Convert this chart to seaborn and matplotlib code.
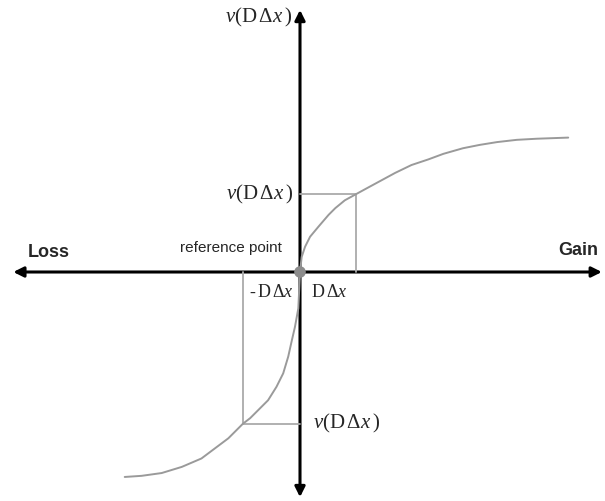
import pandas as pd
import seaborn as sns
import matplotlib.pyplot as plt
from matplotlib.patches import FancyArrowPatch

# value function v(x), x measured in units of the reference step D dx
gain_x = [0.0, 0.03, 0.09, 0.18, 0.33, 0.51, 0.63, 0.80, 1.00, 1.22, 1.46, 1.70,
          1.99, 2.29, 2.56, 2.91, 3.21, 3.52, 3.87, 4.23, 4.79]
gain_v = [0.0, 0.27, 0.45, 0.63, 0.81, 1.02, 1.14, 1.28, 1.39, 1.51, 1.64, 1.77,
          1.91, 2.01, 2.11, 2.21, 2.27, 2.32, 2.36, 2.38, 2.40]
loss_x = [0.0, -0.03, -0.09, -0.15, -0.21, -0.30, -0.42, -0.57, -0.74, -0.89, -1.02,
          -1.28, -1.52, -1.76, -2.11, -2.47, -2.83, -3.13]
loss_v = [0.0, -0.65, -0.98, -1.24, -1.51, -1.81, -2.05, -2.29, -2.46, -2.61, -2.71,
          -2.97, -3.15, -3.33, -3.48, -3.59, -3.64, -3.66]

# the marked step on each side
dx_gain, v_gain = 1.0, 1.39
dx_loss, v_loss = -1.02, -2.71

axis_x = (-5.12, 5.39)
axis_y = (-4.02, 4.68)

val_label = r"$\mathit{v}(\mathrm{D}\,\Delta \mathit{x}\,)$"

sns.set_style('white')
plt.rcParams['font.family'] = ['Liberation Sans', 'DejaVu Sans']
plt.rcParams['mathtext.fontset'] = 'custom'
plt.rcParams['mathtext.rm'] = 'Liberation Serif'
plt.rcParams['mathtext.it'] = 'Liberation Serif:italic'

fig = plt.figure(figsize=(6.05, 5.01), dpi=100)
ax = fig.add_axes([0, 0, 1, 1])

curve = pd.DataFrame({'x': loss_x[::-1] + gain_x, 'v': loss_v[::-1] + gain_v})

# guide lines for the marked steps
ax.plot([dx_gain, dx_gain], [0, v_gain], color='#aaaaaa', lw=1.3)
ax.plot([0, dx_gain], [v_gain, v_gain], color='#aaaaaa', lw=1.3)
ax.plot([dx_loss, dx_loss], [0, v_loss], color='#aaaaaa', lw=1.3)
ax.plot([dx_loss, 0], [v_loss, v_loss], color='#aaaaaa', lw=1.3)

sns.lineplot(data=curve, x='x', y='v', sort=False, estimator=None,
             color='#9a9a9a', lw=1.4, ax=ax)

# axes with arrows
for start, end in [((axis_x[0], 0), (axis_x[1], 0)), ((0, axis_y[0]), (0, axis_y[1]))]:
    ax.add_patch(FancyArrowPatch(start, end, arrowstyle='<|-|>,head_length=0.6,head_width=0.3',
                                 mutation_scale=10, color='black', lw=2.2, shrinkA=0, shrinkB=0))

sns.scatterplot(x=[0], y=[0], color='#8c8c8c', s=70, edgecolor='none', ax=ax, zorder=5)

ax.text(-0.14, 4.54, val_label, fontsize=15, ha='right', va='center')
ax.text(-0.12, v_gain, val_label, fontsize=15, ha='right', va='center')
ax.text(0.23, v_loss, val_label, fontsize=15, ha='left', va='center')
ax.text(-0.12, -0.37, r"$\text{-}\,\mathrm{D}\,\Delta \mathit{x}$", fontsize=13, ha='right', va='center')
ax.text(0.2, -0.37, r"$\mathrm{D}\,\Delta \mathit{x}$", fontsize=13, ha='left', va='center')
ax.text(-0.32, 0.43, 'reference point', fontsize=11, ha='right', va='center')
ax.text(-4.86, 0.34, 'Loss', fontsize=13, fontweight='bold', ha='left', va='center')
ax.text(5.32, 0.38, 'Gain', fontsize=13, fontweight='bold', ha='right', va='center')

ax.set_xlim(-300 / 56, 305 / 56)
ax.set_ylim(-229 / 56, 272 / 56)
ax.set_axis_off()

plt.savefig('out.png', dpi=100)
